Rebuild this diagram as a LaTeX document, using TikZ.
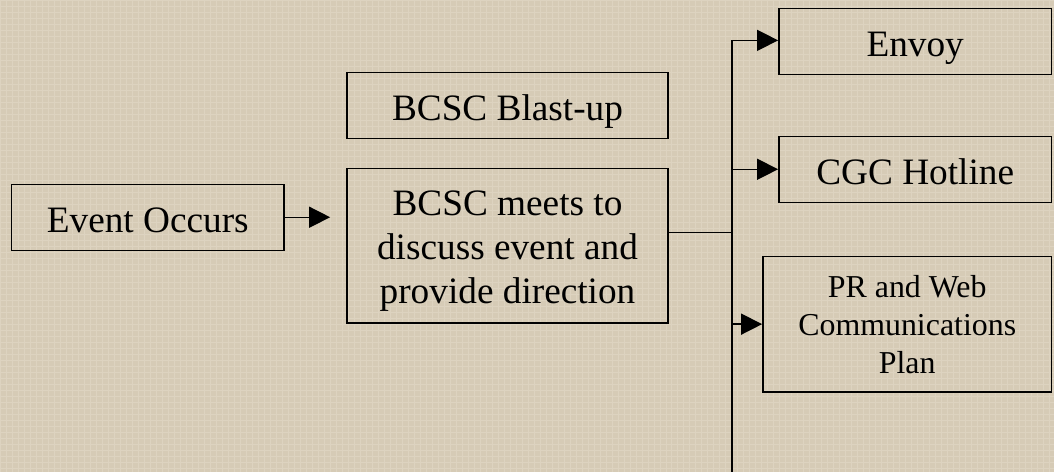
\documentclass[tikz,border=0pt]{standalone}
\usepackage{fontspec}
\setmainfont{Liberation Serif}
\usetikzlibrary{arrows.meta}
\definecolor{canvas}{RGB}{214,203,182}
\definecolor{weave}{RGB}{236,228,212}

\begin{document}
\begin{tikzpicture}[x=1pt,y=-1pt]
    \tikzset{stepbox/.style={draw, line width=1.4pt, inner sep=0pt, align=center,
                             font=\fontsize{37.3}{44}\selectfont},
             oneline/.style={text height=30pt, text depth=0pt},
             tip/.style={line width=1.4pt, -{Triangle[length=21pt,width=21pt]}},
             wire/.style={line width=1.4pt}};
%%
\fill [canvas] (0,0) rectangle (1054,472);
\draw [weave, opacity=0.35, line width=0.8pt, step=6pt] (0,0) grid (1054,472);
\useasboundingbox (0,0) rectangle (1054,472);

\node (event) at (147.5,217) [stepbox, oneline, minimum width=273pt, minimum height=66pt] {Event Occurs};
  \node (blast) at (507.5,105) [stepbox, oneline, minimum width=321pt, minimum height=66pt] {BCSC Blast-up};
  \node (meets) at (507.5,245.5) [stepbox, minimum width=321pt, minimum height=155pt] {\rule{0pt}{35pt}BCSC meets to\\discuss event and\\provide direction};
  \node (envoy) at (915.5,41) [stepbox, oneline, minimum width=273pt, minimum height=66pt] {Envoy};
  \node (hotline) at (915.5,169) [stepbox, oneline, minimum width=273pt, minimum height=66pt] {CGC Hotline};
  \node (prplan) at (907.5,324) [stepbox, minimum width=289pt, minimum height=136pt,
                                 font=\fontsize{31.9}{38}\selectfont] {PR and Web\\Communications\\Plan};
  \coordinate (evtip) at (330,217);
  \coordinate (trunk) at (732,232);
  \coordinate (trunktop) at (732,40);
  \coordinate (trunkbot) at (732,472);

  \draw [tip] (event.east |- evtip) -- (evtip);
  \draw [wire] (meets.east |- trunk) -- (trunk);
  \draw [wire] (trunktop) -- (trunkbot);
  \draw [tip] (trunktop) -- (trunktop -| envoy.west);
  \draw [tip] (trunk |- hotline.west) -- (hotline.west);
  \draw [tip] (trunk |- prplan.west) -- (prplan.west);
  %
\end{tikzpicture}
\end{document}
